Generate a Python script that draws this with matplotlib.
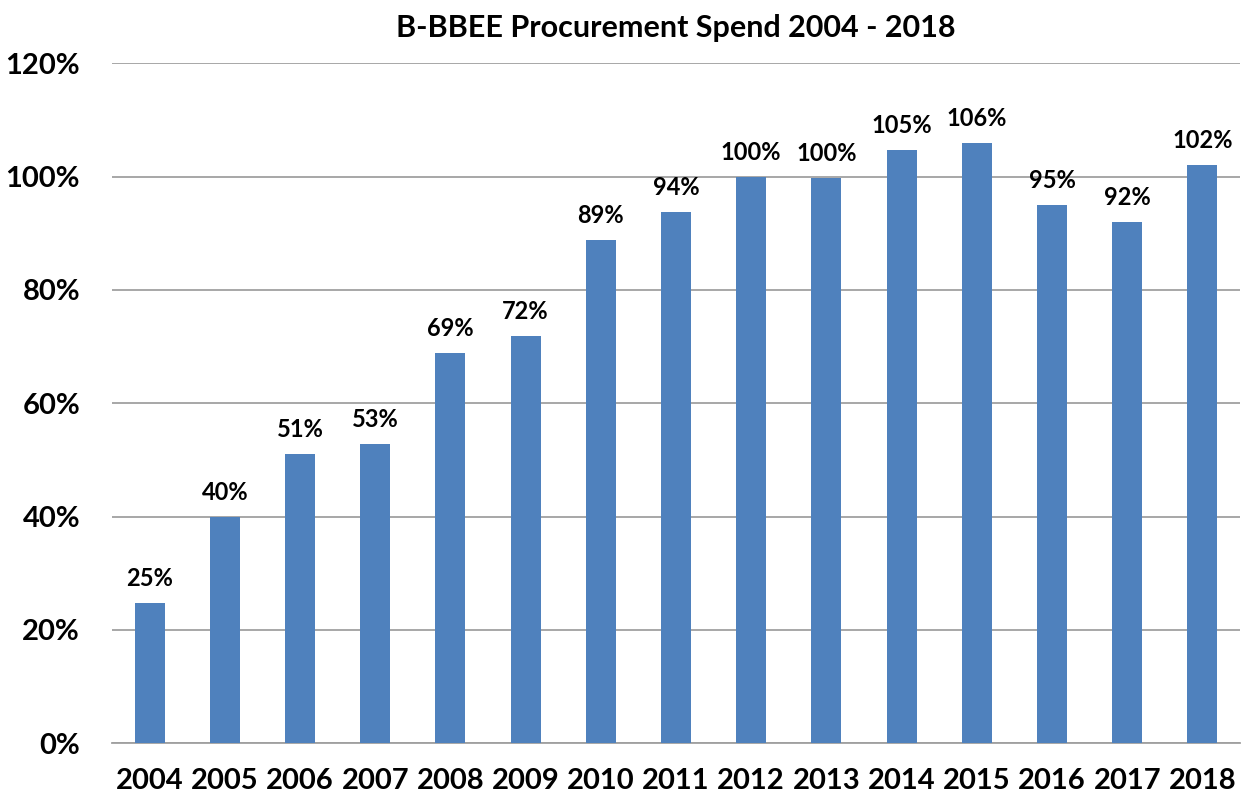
import numpy as np
import matplotlib.pyplot as plt
from matplotlib.ticker import FuncFormatter

plt.rcParams['font.family'] = ['Lato', 'DejaVu Sans']

# Data
years = ['2004', '2005', '2006', '2007', '2008', '2009', '2010', '2011',
         '2012', '2013', '2014', '2015', '2016', '2017', '2018']
spend = [24.7, 40.0, 51.0, 52.8, 68.8, 71.8, 88.8, 93.8,
         100.0, 99.7, 104.6, 106.0, 95.0, 92.0, 102.0]
labels = ['25%', '40%', '51%', '53%', '69%', '72%', '89%', '94%',
          '100%', '100%', '105%', '106%', '95%', '92%', '102%']

fig = plt.figure(figsize=(12.45, 8), dpi=100)
ax = fig.add_axes([0.09, 0.071, 0.906, 0.85])

x = np.arange(len(years))
bars = ax.bar(x, spend, width=0.4, color='#4F81BD', zorder=3)

for b, lab in zip(bars, labels):
    ax.text(b.get_x() + b.get_width() / 2, b.get_height() + 2.3, lab,
            ha='center', va='bottom', fontsize=17, fontweight='bold')

ax.set_xlim(-0.5, len(years) - 0.5)
ax.set_ylim(0, 120)
ax.set_yticks(np.arange(0, 121, 20))
ax.yaxis.set_major_formatter(FuncFormatter(lambda v, p: f'{v:.0f}%'))
ax.set_xticks(x)
ax.set_xticklabels(years)

ax.grid(axis='y', color='#A0A0A0', linewidth=1.3, zorder=0)
for s in ['top', 'right', 'left']:
    ax.spines[s].set_visible(False)
ax.spines['bottom'].set_color('#A0A0A0')
ax.spines['bottom'].set_linewidth(1.3)
ax.tick_params(axis='both', length=0, labelsize=21)
ax.tick_params(axis='y', pad=23)
ax.tick_params(axis='x', pad=18)
for t in ax.get_xticklabels() + ax.get_yticklabels():
    t.set_fontweight('bold')

ax.set_title('B-BBEE Procurement Spend 2004 - 2018', fontsize=22,
             fontweight='bold', pad=19)

fig.savefig('out.png', dpi=100)
